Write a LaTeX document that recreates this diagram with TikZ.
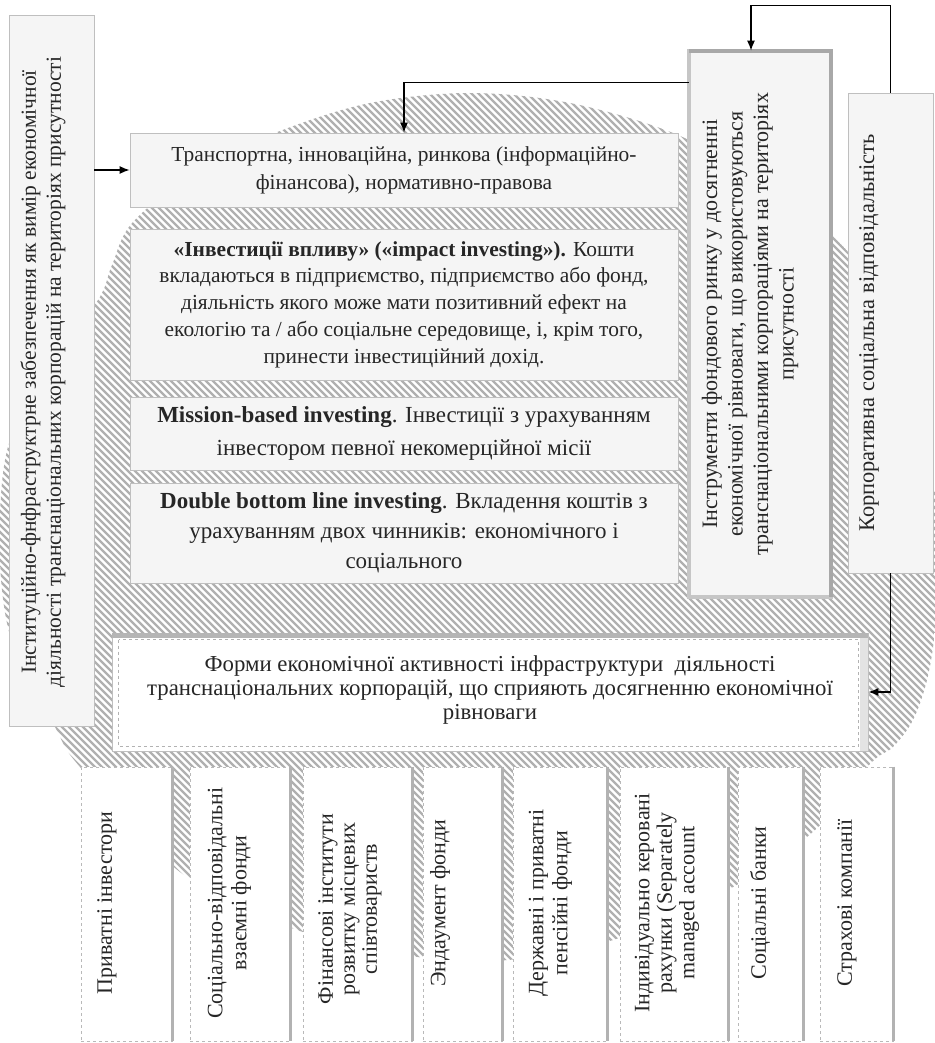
\documentclass[tikz,border=0pt]{standalone}
\usepackage{fontspec}
\setmainfont{Liberation Serif}
\usetikzlibrary{arrows.meta,calc}
\newcommand{\myfs}[2]{\fontsize{#1}{#2}\selectfont}
\tikzset{
  dotbox/.style={draw=gray!50, line width=0.8pt, fill=gray!8, inner sep=0pt, rectangle},
  whitebox/.style={draw=gray!55, line width=0.7pt, dashed, fill=white, inner sep=0pt, rectangle},
  plainbox/.style={draw=gray!50, line width=0.8pt, fill=white, inner sep=0pt, rectangle},
  hatchline/.style={draw=gray!62, line width=2.4pt},
  arr/.style={draw=black, line width=1.2pt, -{Latex[length=10pt,width=8pt]}},
  edgeband/.style={draw=gray!60, line width=3.5pt},
  txt/.style={inner sep=0pt, align=center, text=black!85}
}
\begin{document}
\begin{tikzpicture}[x=1pt,y=-1pt]
\fill[white] (0,0) rectangle (934,1043);
\useasboundingbox (0,0) rectangle (934,1043);

% hatched background shape
\begin{scope}
\clip plot[smooth cycle, tension=0.55] coordinates {
 (470,93) (570,103) (673,133) (760,180) (840,243) (900,330) (930,450)
 (938,560) (935,630) (927,680) (913,720) (893,747) (870,764) (815,830)
 (733,887) (613,940) (508,960) (418,957) (297,930) (180,872) (80,767)
 (55,727) (15,650) (2,590) (0,513) (10,440) (50,360) (98,300) (112,265)
 (133,222) (200,168) (280,131) (370,103)};
\foreach \i in {-1050,-1043,...,940} \draw[hatchline] (\i,0) -- ++(1043,1043);
\end{scope}

% left vertical box
\node[dotbox, minimum width=85, minimum height=711] (infra) at (51.5,370.5) {};
\node[txt, rotate=90, font=\myfs{21.5}{25}] (infratxt) at (43,372)
 {Інституційно-фнфраструктрне забезпечення як вимір економічної\\
  діяльності транснаціональних корпорацій на територіях присутності};

% central boxes
\node[dotbox, minimum width=548, minimum height=74, txt, font=\myfs{21.4}{28}] (transport) at (404,170)
 {Транспортна, інноваційна, ринкова (інформаційно-\\фінансова), нормативно-правова};
\node[dotbox, minimum width=548, minimum height=151, txt, font=\myfs{21.4}{26.7}] (impact) at (404,304.5)
 {{\bfseries «Інвестиції впливу» («impact investing»).} Кошти\\
  вкладаються в підприємство, підприємство або фонд,\\
  діяльність якого може мати позитивний ефект на\\
  екологію та / або соціальне середовище, і, крім того,\\
  принести інвестиційний дохід.};
\node[dotbox, minimum width=548, minimum height=73, txt, font=\myfs{23}{33}] (mission) at (404,433.5)
 {{\bfseries Mission-based investing}. Інвестиції з урахуванням\\
  інвестором певної некомерційної місії};
\node[dotbox, minimum width=548, minimum height=100, txt, font=\myfs{23}{30}] (double) at (404,533)
 {{\bfseries Double bottom line investing}. Вкладення коштів з\\
  урахуванням двох чинників: економічного і\\
  соціального};

% instruments box
\node[dotbox, minimum width=142, minimum height=546] (instr) at (760,324) {};
\draw[gray!45, line width=4pt] (instr.north west) rectangle (instr.south east);
\draw[gray!68, line width=4pt] (instr.north west) -- (instr.north east) -- (instr.south east);
\node[txt, rotate=90, font=\myfs{22}{25.5}] (instrtxt) at (750,324)
 {Інструменти фондового ринку у досягненні\\
  економічної рівноваги, що використовуються\\
  транснаціональними корпораціями на територіях\\
  присутності};

% CSR box
\node[dotbox, minimum width=85, minimum height=480] (korp) at (890.5,333) {};
\node[txt, rotate=90, font=\myfs{22.4}{25}] (korptxt) at (869,333)
 {Корпоративна соціальна відповідальність};

% forms box
\node[plainbox, minimum width=756, minimum height=118] (forms) at (490,692) {};
\fill[gray!58] (forms.north west) rectangle ($(forms.north east)+(0,5)$);
\fill[gray!22] ($(forms.north east)+(-8,5)$) rectangle (forms.south east);
\draw[gray!60, line width=0.6pt, dashed] ($(forms.north west)+(7,7)$) rectangle ($(forms.south east)+(-10,-5)$);
\node[txt, font=\myfs{22.8}{24}] (formstxt) at (490,690)
 {Форми економічної активності інфраструктури\ \ діяльності\\
  транснаціональних корпорацій, що сприяють досягненню економічної\\
  рівноваги};

% bottom boxes
\foreach \n/\cx/\w in {b1/126.5/91, b2/240/100, b3/357.5/109, b4/462.5/79,
                       b5/560/94, b6/674/108, b7/770.5/65, b8/856.5/73}{
  \node[whitebox, minimum width=\w, minimum height=274] (\n) at (\cx,904) {};
  \draw[edgeband] (\n.north east) -- (\n.south east);
}
\node[txt, rotate=90, font=\myfs{22}{24}] (t1) at (107,903) {Приватні інвестори};
\node[txt, rotate=90, font=\myfs{22}{24}] (t2) at (229.5,903) {Соціально-відповідальні\\взаємні фонди};
\node[txt, rotate=90, font=\myfs{22}{22}] (t3) at (350,909) {Фінансові інститути\\розвитку місцевих\\співтовариств};
\node[txt, rotate=90, font=\myfs{22}{24}] (t4) at (440,903) {Эндаумент фонди};
\node[txt, rotate=90, font=\myfs{22}{24}] (t5) at (550.5,903) {Державні і приватні\\пенсійні фонди};
\node[txt, rotate=90, font=\myfs{22}{22.5}] (t6) at (667,903) {Індивідуально керовані\\рахунки (Separately\\managed account};
\node[txt, rotate=90, font=\myfs{22}{24}] (t7) at (760,903) {Соціальні банки};
\node[txt, rotate=90, font=\myfs{22}{24}] (t8) at (847,903) {Страхові компанії};

% connectors
\draw[arr] (transport.west -| infra.east) -- (transport.west);
\draw[arr] ($(instr.north west)+(0,32)$) -| (transport.north);
\coordinate (instrin) at ($(instr.north)+(-9,0)$);
\draw[arr] (korp.north) -- ++(0,-87) -| (instrin);
\draw[arr] (korp.south) |- (forms.east);
\end{tikzpicture}
\end{document}
